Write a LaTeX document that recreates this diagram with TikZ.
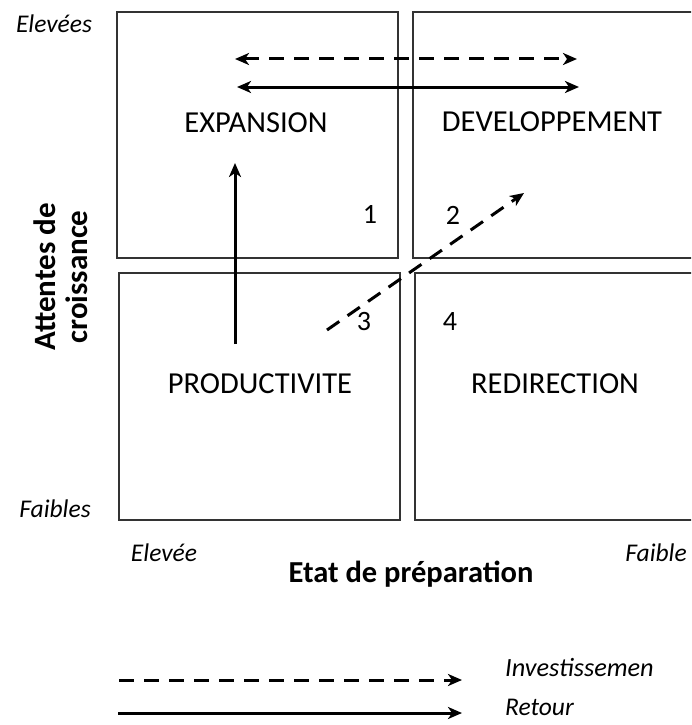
\documentclass[tikz,border=0pt]{standalone}
\usepackage{fontspec}
\setmainfont{Carlito}
\usetikzlibrary{arrows.meta}
\begin{document}
\begin{tikzpicture}[x=1pt,y=-1pt,
  quad/.style={draw=black!80,line width=1.3pt},
  lbl/.style={font=\fontsize{30.5}{36}\selectfont,anchor=base,inner sep=0pt},
  num/.style={font=\fontsize{28}{34}\selectfont,anchor=base,inner sep=0pt},
  ital/.style={font=\fontsize{25.5}{30}\selectfont\itshape,anchor=base,inner sep=0pt},
  axis/.style={font=\fontsize{31}{32}\selectfont\bfseries,inner sep=0pt},
  arr/.style={line width=3pt,-{Stealth[length=14pt,width=12pt,inset=4pt]}},
  darr/.style={line width=3pt,{Stealth[length=14pt,width=12pt,inset=4pt]}-{Stealth[length=14pt,width=12pt,inset=4pt]}},
  dsh/.style={dash pattern=on 15pt off 10pt}]
\clip (0,0) rectangle (691,725);
\fill[white] (0,0) rectangle (691,725);
% quadrants
\draw[quad] (117,12) rectangle (398,258);
\draw[quad] (413,12) rectangle (700,258);
\draw[quad] (119,273) rectangle (400,520);
\draw[quad] (415,273) rectangle (700,520);
% labels
\node[lbl] (exp) at (256,132) {EXPANSION};
\node[lbl] (dev) at (552,131) {DEVELOPPEMENT};
\node[lbl] (prod) at (260,393) {PRODUCTIVITE};
\node[lbl] (redir) at (555,393) {REDIRECTION};
\node[num] (n1) at (370,223) {1};
\node[num] (n2) at (453,224) {2};
\node[num] (n3) at (364,330) {3};
\node[num] (n4) at (450,330) {4};
% axis labels
\node[ital] (hi) at (54,33) {Elevées};
\node[ital] (lo) at (55,517) {Faibles};
\node[ital] (xhi) at (164,561) {Elevée};
\node[ital] (xlo) at (656,561) {Faible};
\node[axis,rotate=90,align=center] (ylab) at (61,277) {Attentes de\\croissance};
\node[axis,anchor=base,font=\fontsize{30.5}{32}\selectfont\bfseries] (xlab) at (411,582) {Etat de préparation};
% arrows
\coordinate (da) at (235,59); \coordinate (db) at (577,59);
\coordinate (sa) at (237,87); \coordinate (sb) at (579,87);
\coordinate (va) at (235,344); \coordinate (vb) at (235,163);
\coordinate (ga) at (327,330); \coordinate (gb) at (524,193);
\draw[darr,dsh] (da) -- (db);
\draw[darr] (sa) -- (sb);
\draw[arr] (va) -- (vb);
\draw[arr,dsh] (ga) -- (gb);
% legend
\coordinate (la) at (119,680); \coordinate (lb) at (462,680);
\coordinate (ra) at (118,713); \coordinate (rb) at (462,713);
\draw[arr,dsh] (la) -- (lb);
\draw[arr] (ra) -- (rb);
\node[ital,anchor=base west,font=\fontsize{26.3}{30}\selectfont\itshape] (inv) at (505,676) {Investissemen};
\node[ital,anchor=base west] (ret) at (505,715) {Retour};
\end{tikzpicture}
\end{document}
